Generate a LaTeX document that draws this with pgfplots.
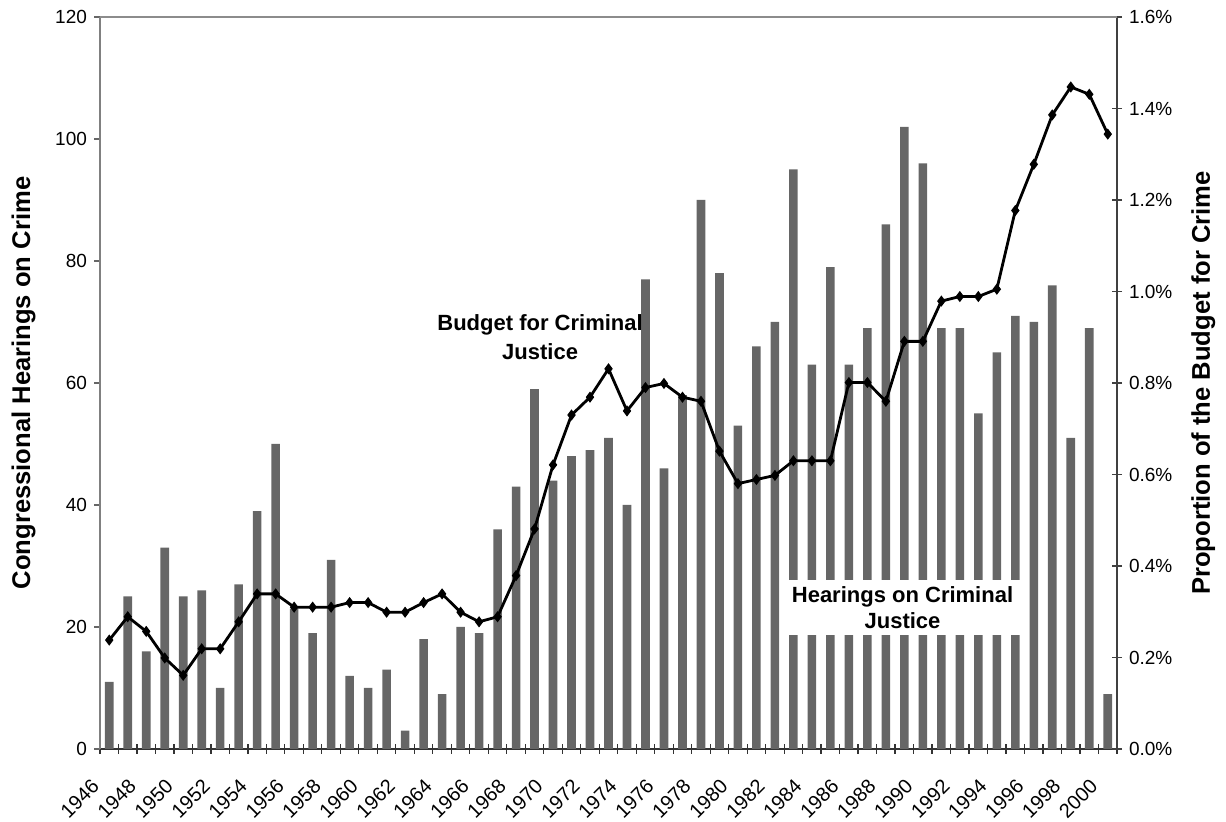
\documentclass[border=0pt]{standalone}
\usepackage{pgfplots}
\pgfplotsset{compat=1.18}
\usepackage{pgfplotstable}
\usepackage{fontspec}
\setmainfont{Liberation Sans}
\usetikzlibrary{calc}
\definecolor{bargray}{HTML}{666666}

\pgfplotstableread{
year hear budget
1946 11 0.238
1947 25 0.289
1948 16 0.257
1949 33 0.199
1950 25 0.161
1951 26 0.219
1952 10 0.219
1953 27 0.278
1954 39 0.339
1955 50 0.339
1956 23 0.310
1957 19 0.310
1958 31 0.310
1959 12 0.320
1960 10 0.320
1961 13 0.299
1962 3 0.299
1963 18 0.320
1964 9 0.339
1965 20 0.299
1966 19 0.278
1967 36 0.289
1968 43 0.379
1969 59 0.481
1970 44 0.621
1971 48 0.730
1972 49 0.769
1973 51 0.831
1974 40 0.739
1975 77 0.790
1976 46 0.799
1977 58 0.769
1978 90 0.760
1979 78 0.651
1980 53 0.580
1981 66 0.589
1982 70 0.598
1983 95 0.630
1984 63 0.630
1985 79 0.630
1986 63 0.801
1987 69 0.801
1988 86 0.760
1989 102 0.891
1990 96 0.891
1991 69 0.979
1992 69 0.989
1993 55 0.989
1994 65 1.005
1995 71 1.177
1996 70 1.278
1997 76 1.386
1998 51 1.447
1999 69 1.431
2000 9 1.344
}\data

\begin{document}
\begin{tikzpicture}
\pgfplotsset{
  common/.style={
    scale only axis, width=508.5pt, height=366pt,
    xmin=1945.5, xmax=2000.5,
    /pgf/number format/assume math mode=true,
    /pgf/number format/1000 sep={},
    ticklabel style={font=\fontsize{9.5}{11}\selectfont},
  }
}
\begin{axis}[common,
  ymin=0, ymax=120, ytick={0,20,...,120},
  axis y line*=left, axis x line*=bottom,
  y axis line style={draw=black!50, line width=0.7pt},
  x axis line style={draw=black!80, line width=0.7pt},
  xtick={1946,1948,...,2000},
  major x tick style={draw=none},
  minor xtick={1945.5,1946.5,...,2000.5},
  minor x tick style={draw=black!80, line width=0.6pt},
  minor tick length=5pt,
  xtick align=center,
  ytick align=outside,
  major tick length=3pt,
  y tick style={draw=black!60, line width=0.6pt},
  xticklabel style={font=\fontsize{10}{12}\selectfont, xshift=-4.4pt, yshift=-13pt, rotate=45, anchor=east},
  every axis y label/.style={at={(axis description cs:-0.063,0.5)}, rotate=90, anchor=south, inner sep=0pt, font=\bfseries\fontsize{12.8}{15}\selectfont},
  ylabel={Congressional Hearings on Crime},
  clip=false,
]
\addplot[ybar, bar width=4.3pt, fill=bargray, draw=none] table[x=year, y=hear] {\data};
\coordinate (ll) at (rel axis cs:0,0);
\coordinate (ur) at (rel axis cs:1,1);
\node[font=\bfseries\fontsize{11}{14.5}\selectfont, align=center] at (axis cs:1969.3,67.5) {Budget for Criminal\\Justice};
\fill[white] (axis cs:1982.55,18.7) rectangle (axis cs:1995.4,27.7);
\node[font=\bfseries\fontsize{11}{13}\selectfont, align=center] at (axis cs:1988.9,23.2) {Hearings on Criminal\\Justice};
\end{axis}
\begin{axis}[common,
  ymin=0, ymax=1.6, ytick={0,0.2,...,1.6},
  yticklabels={0.0\%,0.2\%,0.4\%,0.6\%,0.8\%,1.0\%,1.2\%,1.4\%,1.6\%},
  axis y line*=right, axis x line=none,
  y axis line style={draw=black!75, line width=0.7pt},
  ytick align=center, major tick length=5pt,
  y tick style={draw=black!75, line width=0.6pt},
  every axis y label/.style={at={(axis description cs:1.097,0.5)}, rotate=90, anchor=south, inner sep=0pt, font=\bfseries\fontsize{12.8}{15}\selectfont},
  ylabel={Proportion of the Budget for Crime},
  clip=false,
]
\addplot[black, line width=1.4pt, mark=diamond*, mark size=2.4pt, mark options={fill=black, line width=0.5pt}] table[x=year, y=budget] {\data};
\end{axis}
\draw[black!45, line width=0.6pt] (ll |- ur) -- (ur);
\pgfresetboundingbox
\path ($(ll)+(-50pt,-36.5pt)$) rectangle ($(ur)+(54.5pt,8.5pt)$);
\end{tikzpicture}
\end{document}
